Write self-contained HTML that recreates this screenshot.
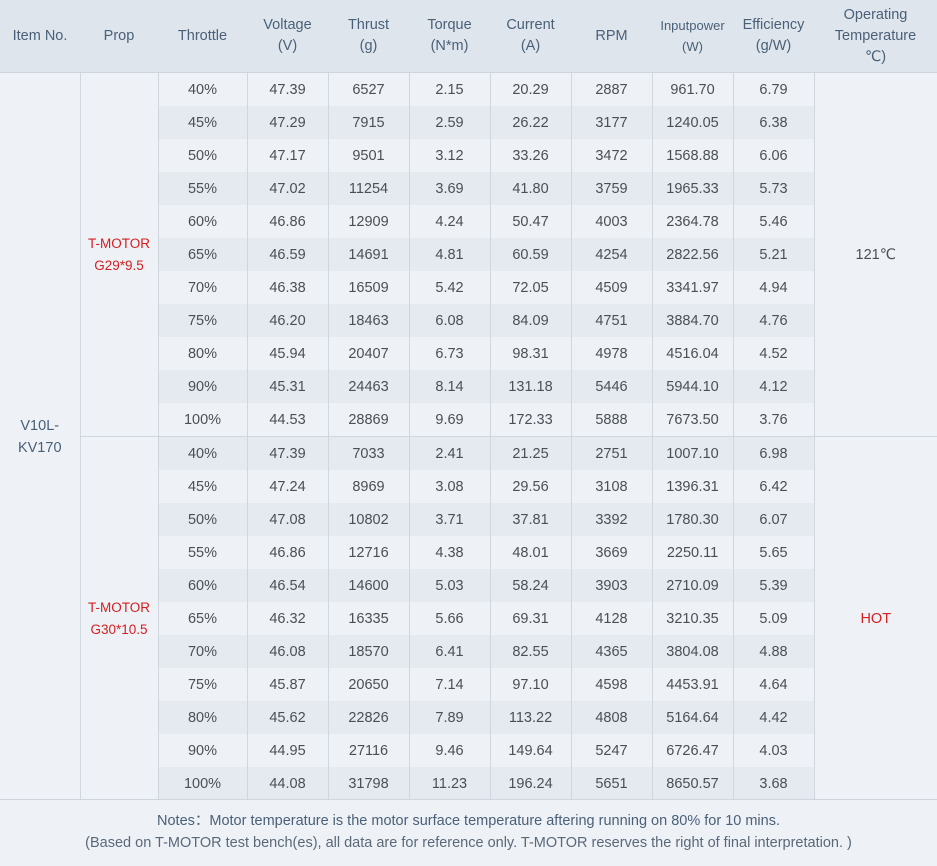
<!DOCTYPE html>
<html><head><meta charset="utf-8"><style>
body{margin:0;width:937px;height:866px;background:#eef2f7;font-family:"Liberation Sans","DejaVu Sans",sans-serif;overflow:hidden}
table{border-collapse:collapse;table-layout:fixed;width:937px;position:absolute;left:0;top:0}
th{height:72px;background:#dfe5ec;color:#4a6078;font-weight:normal;font-size:14.5px;line-height:21px;border-bottom:1px solid #cdd5de;padding:0}
td{height:33px;padding:0;text-align:center;font-size:14.5px;color:#4a4f55;border-left:1px solid #cfd6df;border-right:1px solid #cfd6df}
tr.d td.v{background:#e5eaf0}
tr.l td.v{background:#eef2f7}
td.m{background:#eef2f7}
tr.g td{border-bottom:1px solid #cdd5de}
.red{color:#d42020}
.notes{position:absolute;left:0;top:799px;width:937px;height:67px;border-top:1px solid #cdd5de;text-align:center;font-size:14.5px;color:#5a6878;line-height:22px;padding-top:10px;box-sizing:border-box}
</style></head><body>
<table>
<colgroup><col style="width:80px"><col style="width:78px"><col style="width:89px"><col style="width:81px"><col style="width:81px"><col style="width:81px"><col style="width:81px"><col style="width:81px"><col style="width:81px"><col style="width:81px"><col style="width:123px"></colgroup>
<tr><th>Item No.</th><th>Prop</th><th>Throttle</th><th>Voltage<br>(V)</th><th>Thrust<br>(g)</th><th>Torque<br>(N*m)</th><th>Current<br>(A)</th><th>RPM</th><th style="font-size:13px">Inputpower<br>(W)</th><th>Efficiency<br>(g/W)</th><th>Operating<br>Temperature<br>℃)</th></tr>
<tr class="l"><td class="m" rowspan="22" style="color:#4a6078;border-left:none;line-height:22px">V10L-<br>KV170</td><td class="m red" rowspan="11" style="font-size:13.5px;line-height:22px;border-bottom:1px solid #cdd5de">T-MOTOR<br>G29*9.5</td><td class="v">40%</td><td class="v">47.39</td><td class="v">6527</td><td class="v">2.15</td><td class="v">20.29</td><td class="v">2887</td><td class="v">961.70</td><td class="v">6.79</td><td class="m" rowspan="11" style="border-right:none;border-bottom:1px solid #cdd5de">121℃</td></tr>
<tr class="d"><td class="v">45%</td><td class="v">47.29</td><td class="v">7915</td><td class="v">2.59</td><td class="v">26.22</td><td class="v">3177</td><td class="v">1240.05</td><td class="v">6.38</td></tr>
<tr class="l"><td class="v">50%</td><td class="v">47.17</td><td class="v">9501</td><td class="v">3.12</td><td class="v">33.26</td><td class="v">3472</td><td class="v">1568.88</td><td class="v">6.06</td></tr>
<tr class="d"><td class="v">55%</td><td class="v">47.02</td><td class="v">11254</td><td class="v">3.69</td><td class="v">41.80</td><td class="v">3759</td><td class="v">1965.33</td><td class="v">5.73</td></tr>
<tr class="l"><td class="v">60%</td><td class="v">46.86</td><td class="v">12909</td><td class="v">4.24</td><td class="v">50.47</td><td class="v">4003</td><td class="v">2364.78</td><td class="v">5.46</td></tr>
<tr class="d"><td class="v">65%</td><td class="v">46.59</td><td class="v">14691</td><td class="v">4.81</td><td class="v">60.59</td><td class="v">4254</td><td class="v">2822.56</td><td class="v">5.21</td></tr>
<tr class="l"><td class="v">70%</td><td class="v">46.38</td><td class="v">16509</td><td class="v">5.42</td><td class="v">72.05</td><td class="v">4509</td><td class="v">3341.97</td><td class="v">4.94</td></tr>
<tr class="d"><td class="v">75%</td><td class="v">46.20</td><td class="v">18463</td><td class="v">6.08</td><td class="v">84.09</td><td class="v">4751</td><td class="v">3884.70</td><td class="v">4.76</td></tr>
<tr class="l"><td class="v">80%</td><td class="v">45.94</td><td class="v">20407</td><td class="v">6.73</td><td class="v">98.31</td><td class="v">4978</td><td class="v">4516.04</td><td class="v">4.52</td></tr>
<tr class="d"><td class="v">90%</td><td class="v">45.31</td><td class="v">24463</td><td class="v">8.14</td><td class="v">131.18</td><td class="v">5446</td><td class="v">5944.10</td><td class="v">4.12</td></tr>
<tr class="l g"><td class="v">100%</td><td class="v">44.53</td><td class="v">28869</td><td class="v">9.69</td><td class="v">172.33</td><td class="v">5888</td><td class="v">7673.50</td><td class="v">3.76</td></tr>
<tr class="d"><td class="m red" rowspan="11" style="font-size:13.5px;line-height:22px">T-MOTOR<br>G30*10.5</td><td class="v">40%</td><td class="v">47.39</td><td class="v">7033</td><td class="v">2.41</td><td class="v">21.25</td><td class="v">2751</td><td class="v">1007.10</td><td class="v">6.98</td><td class="m red" rowspan="11" style="border-right:none">HOT</td></tr>
<tr class="l"><td class="v">45%</td><td class="v">47.24</td><td class="v">8969</td><td class="v">3.08</td><td class="v">29.56</td><td class="v">3108</td><td class="v">1396.31</td><td class="v">6.42</td></tr>
<tr class="d"><td class="v">50%</td><td class="v">47.08</td><td class="v">10802</td><td class="v">3.71</td><td class="v">37.81</td><td class="v">3392</td><td class="v">1780.30</td><td class="v">6.07</td></tr>
<tr class="l"><td class="v">55%</td><td class="v">46.86</td><td class="v">12716</td><td class="v">4.38</td><td class="v">48.01</td><td class="v">3669</td><td class="v">2250.11</td><td class="v">5.65</td></tr>
<tr class="d"><td class="v">60%</td><td class="v">46.54</td><td class="v">14600</td><td class="v">5.03</td><td class="v">58.24</td><td class="v">3903</td><td class="v">2710.09</td><td class="v">5.39</td></tr>
<tr class="l"><td class="v">65%</td><td class="v">46.32</td><td class="v">16335</td><td class="v">5.66</td><td class="v">69.31</td><td class="v">4128</td><td class="v">3210.35</td><td class="v">5.09</td></tr>
<tr class="d"><td class="v">70%</td><td class="v">46.08</td><td class="v">18570</td><td class="v">6.41</td><td class="v">82.55</td><td class="v">4365</td><td class="v">3804.08</td><td class="v">4.88</td></tr>
<tr class="l"><td class="v">75%</td><td class="v">45.87</td><td class="v">20650</td><td class="v">7.14</td><td class="v">97.10</td><td class="v">4598</td><td class="v">4453.91</td><td class="v">4.64</td></tr>
<tr class="d"><td class="v">80%</td><td class="v">45.62</td><td class="v">22826</td><td class="v">7.89</td><td class="v">113.22</td><td class="v">4808</td><td class="v">5164.64</td><td class="v">4.42</td></tr>
<tr class="l"><td class="v">90%</td><td class="v">44.95</td><td class="v">27116</td><td class="v">9.46</td><td class="v">149.64</td><td class="v">5247</td><td class="v">6726.47</td><td class="v">4.03</td></tr>
<tr class="d"><td class="v">100%</td><td class="v">44.08</td><td class="v">31798</td><td class="v">11.23</td><td class="v">196.24</td><td class="v">5651</td><td class="v">8650.57</td><td class="v">3.68</td></tr>
</table>
<div class="notes"><span style="color:#4a6078">Notes：Motor temperature is the motor surface temperature aftering running on 80% for 10 mins.</span><br>(Based on T-MOTOR test bench(es), all data are for reference only. T-MOTOR reserves the right of final interpretation. )</div>
</body></html>
